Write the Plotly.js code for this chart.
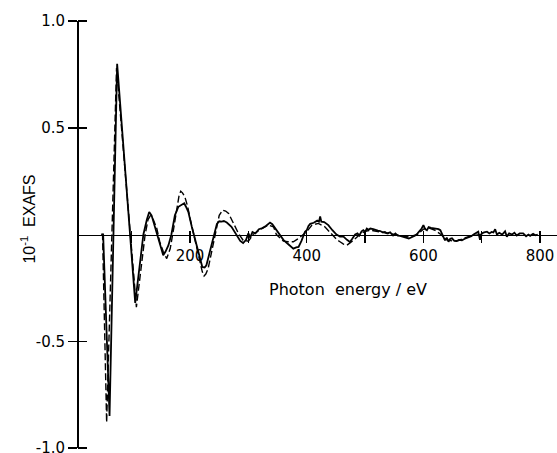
<!DOCTYPE html>
<html>
<head>
<meta charset="utf-8">
<script src="https://cdn.plot.ly/plotly-3.0.1.min.js"></script>
<style>html,body{margin:0;padding:0;background:#fff;}#chart{width:557px;height:453px;}</style>
</head>
<body>
<div id="chart"></div>
<script>
// Photon energy (eV) and EXAFS (x10^-1)
const solidEnergy = [48,51,62,75,106,113,120,126,130,134,137,143,149,154,158,163,168,174,180,185,190,193,197,203,208,215,221,225,228,234,240,246,250,254,258,263,271,280,286,291,296,300,303,307,312,318,324,330,337,341,348,353,360,366,372,377,382,386,391,397,400,403,406,412,418,421,423,425,430,437,444,451,457,463,469,474,478,483,487,490,494,497,500,503,506,509,514,518,522,526,530,534,538,543,548,552,556,560,565,570,575,580,586,590,595,597,600,603,606,609,613,618,623,626,629,631,634,637,640,643,646,649,653,657,661,666,671,677,682,686,690,694,697,700,704,709,713,717,720,723,726,730,735,740,743,747,752,756,760,765,771,776,780,783,788,792,796];
const solidExafs = [0,0,-0.85,0.80,-0.32,-0.15,0.0,0.07,0.105,0.09,0.06,0.005,-0.05,-0.097,-0.08,-0.05,0.0,0.09,0.13,0.14,0.146,0.13,0.106,0.036,-0.019,-0.097,-0.152,-0.155,-0.144,-0.08,-0.01,0.05,0.062,0.06,0.063,0.056,0.036,0.0,-0.03,-0.04,-0.025,0.005,-0.015,0.012,0.005,0.025,0.03,0.04,0.056,0.048,0.02,0.0,-0.025,-0.04,-0.055,-0.066,-0.06,-0.058,-0.03,0.013,0.02,0.04,0.05,0.055,0.065,0.06,0.085,0.06,0.058,0.044,0.02,0.0,-0.01,-0.01,-0.025,-0.035,-0.02,0.0,0.005,-0.005,0.015,0.02,0.012,0.028,0.022,0.028,0.025,0.02,0.018,0.016,0.01,0.012,0.005,0.01,-0.005,0.005,-0.005,-0.006,-0.012,-0.015,-0.019,-0.012,-0.005,0.005,0.02,0.028,0.044,0.025,0.02,0.035,0.031,0.03,0.028,0.025,0.02,0.01,-0.01,-0.027,-0.015,-0.034,-0.02,-0.018,-0.03,-0.031,-0.025,-0.027,-0.02,-0.015,-0.008,0.0,0.005,0.013,-0.025,0.005,0.01,0.013,0.005,0.012,0.01,0.025,0.0,0.008,0.0,0.015,-0.01,0.005,0.0,0.008,-0.005,0.005,0.005,-0.008,0.0,-0.006,0.003,-0.004,0.0];

const dashedEnergy = [48,50,57,74,108,116,123,128,132,137,143,148,154,160,166,171,177,181,184,187,191,196,200,208,217,221,224,227,231,238,244,250,256,261,266,274,283,291,300,308,316,323,334,343,348,355,360,368,377,385,391,400,409,420,431,439,446,452,457,463,469,474,480,491,500,510,520,530,545,560,575,590,600,610,620,630,640,650,660,672,685,700];
const dashedExafs = [0,0,-0.88,0.78,-0.34,-0.15,0.0,0.07,0.088,0.07,0.028,-0.034,-0.08,-0.113,-0.066,0.013,0.12,0.18,0.203,0.195,0.177,0.13,0.075,-0.02,-0.128,-0.175,-0.194,-0.185,-0.16,-0.066,0.013,0.09,0.114,0.11,0.099,0.052,0.005,-0.027,-0.031,0.0,0.015,0.028,0.044,0.036,0.0,-0.02,-0.031,-0.034,-0.034,-0.02,-0.006,0.013,0.044,0.052,0.036,0.012,-0.01,-0.025,-0.034,-0.045,-0.05,-0.04,-0.027,0.0,0.015,0.02,0.015,0.01,0.005,-0.005,-0.012,0.0,0.025,0.03,0.02,0.0,-0.025,-0.03,-0.028,-0.015,-0.005,0.0];

const xLabelVals = [200,400,600,800];
const xLabelText = ['200','400','600','800'];
const xMinorVals = [100,300,500,700];
const xAllTicks = [100,200,300,400,500,600,700,800];
const yTickVals = [-1,-0.5,0.5,1];
const yTickText = ['-1.0','-0.5','0.5','1.0'];

const xRange = [6.2, 829];
const yRange = [-1, 1];
const tickFont = {family:'DejaVu Sans, Liberation Sans, sans-serif', size:15, color:'#000'};

const traces = [
  {x: solidEnergy, y: solidExafs, type:'scatter', mode:'lines', xaxis:'x', yaxis:'y',
   line:{color:'#000', width:1.8}, hoverinfo:'skip', showlegend:false},
  {x: dashedEnergy, y: dashedExafs, type:'scatter', mode:'lines', xaxis:'x2', yaxis:'y2',
   line:{color:'#000', width:1.4, dash:'7px,3px'}, hoverinfo:'skip', showlegend:false}
];

const layout = {
  width:557, height:453,
  margin:{l:77, r:0, t:21, b:5},
  paper_bgcolor:'#fff', plot_bgcolor:'#fff',
  showlegend:false,
  xaxis:{range:xRange, anchor:'free', position:0.5, showline:true, linecolor:'#000', linewidth:1.5,
    tickvals:xLabelVals, ticktext:xLabelText, ticks:'outside', ticklen:7, tickwidth:1.5, tickcolor:'#000',
    minor:{tickvals:xMinorVals, ticks:'outside', ticklen:7, tickwidth:1.5, tickcolor:'#000', showgrid:false},
    showgrid:false, zeroline:false, tickfont:tickFont, ticklabeloverflow:'allow'},
  xaxis2:{range:xRange, overlaying:'x', anchor:'free', position:0.5, side:'top', showline:false,
    tickvals:xAllTicks, ticks:'outside', ticklen:4, tickwidth:1.5, tickcolor:'#000',
    showticklabels:false, showgrid:false, zeroline:false},
  yaxis:{range:yRange, anchor:'free', position:0, showline:true, linecolor:'#000', linewidth:1.5,
    tickvals:yTickVals, ticktext:yTickText, ticks:'outside', ticklen:9, tickwidth:1.5, tickcolor:'#000',
    showgrid:false, zeroline:false, tickfont:tickFont, ticklabeloverflow:'allow'},
  yaxis2:{range:yRange, overlaying:'y', anchor:'free', position:0, side:'right', showline:false,
    tickvals:yTickVals, ticks:'outside', ticklen:9, tickwidth:1.5, tickcolor:'#000',
    showticklabels:false, showgrid:false, zeroline:false},
  annotations:[
    {text:'10<sup>-1</sup>\u00a0\u00a0EXAFS', xref:'paper', yref:'paper', x:-0.102, y:0.535,
     xanchor:'center', yanchor:'middle', textangle:-90, showarrow:false,
     font:{family:'Liberation Sans, Arial, sans-serif', size:16, color:'#000000'}},
    {text:'Photon\u00a0\u00a0energy\u00a0/\u00a0eV', xref:'paper', yref:'paper', x:0.5646, y:0.372,
     xanchor:'center', yanchor:'middle', showarrow:false,
     font:{family:'DejaVu Sans, sans-serif', size:16, color:'#000'}}
  ]
};

Plotly.newPlot('chart', traces, layout, {staticPlot:true, displayModeBar:false});
</script>
</body>
</html>
